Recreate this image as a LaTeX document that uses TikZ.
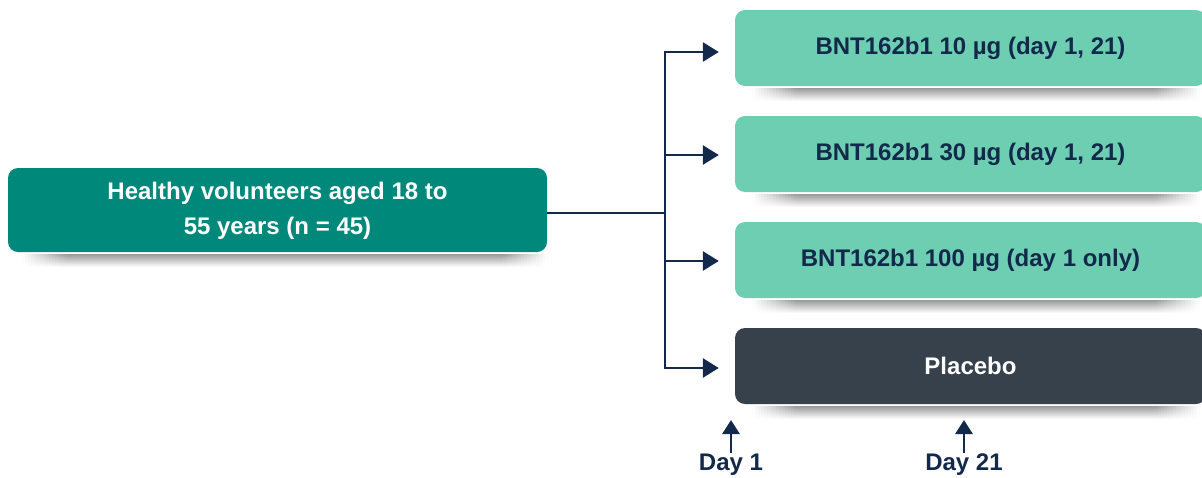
\documentclass[tikz,border=0pt]{standalone}
\usepackage{fontspec}
\setmainfont{Liberation Sans}
\usetikzlibrary{arrows.meta}
\definecolor{teal1}{HTML}{00887A}
\definecolor{mint}{HTML}{6DCEB2}
\definecolor{slate}{HTML}{37414B}
\definecolor{navy}{HTML}{13294B}
\newcommand\boxshadow[3]{%
  \foreach \k in {0,...,12} {
    \pgfmathsetmacro\gg{40*(1-\k/13)}
    \fill[black!\gg] (#1+45,#3+\k) rectangle (#2-45,#3+\k+1.2);
    \foreach \i in {0,...,14} {
      \pgfmathsetmacro\gi{\gg*(\i+0.5)/15}
      \fill[black!\gi] (#1+3*\i,#3+\k) rectangle (#1+3*\i+3.2,#3+\k+1.2);
      \fill[black!\gi] (#2-3*\i-3.2,#3+\k) rectangle (#2-3*\i,#3+\k+1.2);
    }
  }
}
\begin{document}
\begin{tikzpicture}[x=1pt,y=-1pt,
  txt/.style={font=\bfseries\fontsize{24}{35}\selectfont, align=center},
  armbox/.style={txt, rounded corners=10pt, minimum width=471pt, minimum height=76pt, inner sep=0pt, text=navy, fill=mint},
  conn/.style={draw=navy, line width=2.8pt},
  arr/.style={conn, -{Triangle[length=16pt,width=19pt]}, shorten >=16pt},
  dayarr/.style={draw=navy, line width=2.8pt, -{Triangle[length=14pt,width=17pt]}}]
\useasboundingbox (0,0) rectangle (1202,477);
\begin{scope}
\clip (0,0) rectangle (1202,477);
% shadows
\boxshadow{22}{548}{254}
\boxshadow{752}{1200}{88}
\boxshadow{752}{1200}{194}
\boxshadow{752}{1200}{300}
\boxshadow{752}{1200}{406}
% boxes
\node[txt, fill=teal1, text=white, rounded corners=10pt, minimum width=539pt, minimum height=84pt, inner sep=0pt] (src) at (277.5,210) {\raisebox{-3pt}{\begin{tabular}{@{}c@{}}Healthy volunteers aged 18 to\\55 years (n = 45)\end{tabular}}};
\node[armbox] (b1) at (970.5,48) {BNT162b1 10 µg (day 1, 21)};
\node[armbox] (b2) at (970.5,154) {BNT162b1 30 µg (day 1, 21)};
\node[armbox] (b3) at (970.5,260) {BNT162b1 100 µg (day 1 only)};
\node[armbox, fill=slate, text=white] (b4) at (970.5,366) {Placebo};
\end{scope}
% connectors
\coordinate (j) at (665,213);
\draw[conn] (src.east |- j) -- (j);
\draw[arr] (j) |- ([yshift=-4pt]b1.west);
\draw[arr] (j) |- ([yshift=-1pt]b2.west);
\draw[arr] (j) |- ([yshift=-1pt]b3.west);
\draw[arr] (j) |- ([yshift=-2pt]b4.west);
% day markers
\node[txt, text=navy, inner sep=0pt] (d1) at (731,465) {Day 1};
\node[txt, text=navy, inner sep=0pt] (d21) at (964,465) {Day 21};
\coordinate (t1) at (731,420);
\coordinate (t21) at (964,420);
\draw[dayarr] (d1.north) ++(0,-1) -- (t1);
\draw[dayarr] (d21.north) ++(0,-1) -- (t21);
\end{tikzpicture}
\end{document}
